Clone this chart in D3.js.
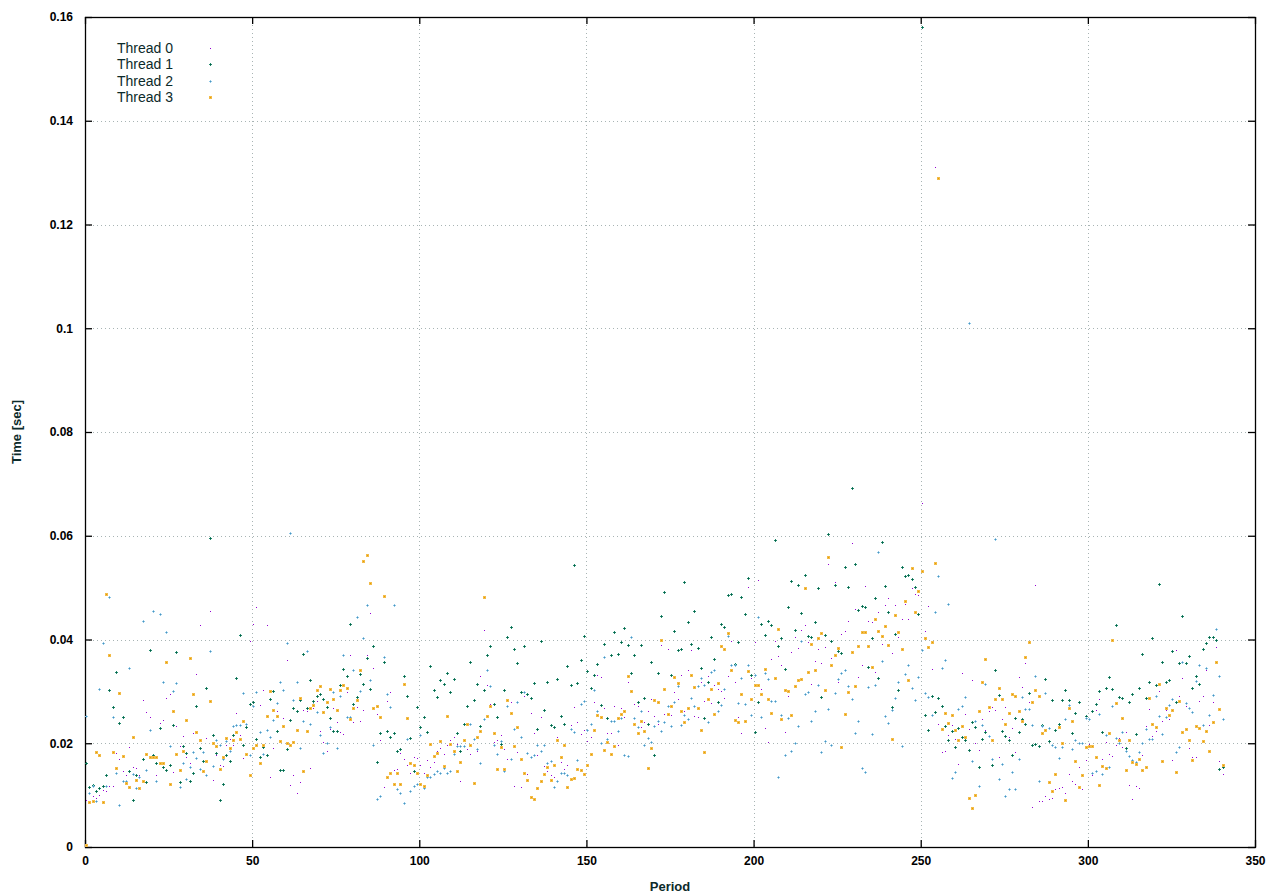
<!DOCTYPE html>
<html><head><meta charset="utf-8">
<script src="https://cdn.jsdelivr.net/npm/d3@7"></script>
<style>
html,body{margin:0;padding:0;background:#fff;}
svg{display:block;}
</style></head>
<body>
<svg id="chart" width="1280" height="896"></svg>
<script>
// ---- data ----
const seriesNames = ["Thread 0", "Thread 1", "Thread 2", "Thread 3"];
const xTicks = [0, 50, 100, 150, 200, 250, 300, 350];
const yTicks = [0, 0.02, 0.04, 0.06, 0.08, 0.1, 0.12, 0.14, 0.16];
const xLabel = "Period";
const yLabel = "Time [sec]";

const thread0 = [
0.0091,0.0105,0.0098,0.0095,0.0101,0.0109,0.0107,0.0117,0.0118,0.0181,
0.0169,0.0146,0.0138,0.0192,0.0155,0.0153,0.0138,0.0283,0.026,0.025,
0.0172,0.0138,0.0239,0.0245,0.0287,0.0295,0.0144,0.0233,0.0194,0.0214,
0.0173,0.0161,0.0219,0.0334,0.0427,0.0182,0.0211,0.0454,0.013,0.0178,
0.0159,0.0157,0.0196,0.0209,0.0196,0.0259,0.0215,0.0172,0.0232,0.0398,
0.0429,0.0462,0.0273,0.0303,0.0427,0.0134,0.019,0.0263,0.0205,0.0248,
0.0361,0.012,0.0138,0.0105,0.0126,0.0265,0.0262,0.0153,0.0268,0.0282,
0.0224,0.0203,0.0186,0.0228,0.0267,0.024,0.0222,0.0217,0.0298,0.0371,
0.024,0.0269,0.0242,0.0265,0.0371,0.0452,0.0346,0.0257,0.0207,0.0115,
0.0282,0.0298,0.0149,0.0151,0.0182,0.017,0.0158,0.0142,0.0174,0.0172,
0.0159,0.0143,0.0167,0.0155,0.0164,0.0186,0.019,0.018,0.0197,0.0207,
0.0212,0.0199,0.0128,0.0195,0.0188,0.018,0.0208,0.0186,0.0329,0.0419,
0.0313,0.0276,0.0203,0.0207,0.0215,0.0188,0.0169,0.028,0.0118,0.0184,
0.0115,0.0292,0.014,0.0259,0.0219,0.0178,0.025,0.0157,0.0147,0.0138,
0.0134,0.0213,0.0163,0.0151,0.0159,0.0236,0.0269,0.024,0.0217,0.0226,
0.0205,0.0213,0.028,0.0332,0.0327,0.0267,0.0219,0.0219,0.0271,0.0196,
0.0267,0.0251,0.0319,0.0303,0.0275,0.0271,0.0232,0.024,0.0262,0.0286,
0.0253,0.0238,0.039,0.0257,0.0381,0.0255,0.0298,0.0286,0.0332,0.0263,
0.0342,0.0379,0.0253,0.0251,0.0319,0.0282,0.0329,0.0278,0.0312,0.0305,
0.03,0.0288,0.033,0.0398,0.0319,0.025,0.0219,0.0273,0.0502,0.0325,
0.0396,0.0514,0.0305,0.023,0.0203,0.0363,0.0398,0.0369,0.035,0.0221,
0.0292,0.0375,0.0404,0.0384,0.0419,0.0427,0.0396,0.0315,0.0359,0.0382,
0.0354,0.0385,0.0545,0.0364,0.0511,0.0318,0.041,0.0416,0.0435,0.0586,
0.0458,0.0327,0.0351,0.0503,0.0435,0.0433,0.0337,0.0453,0.0392,0.0466,
0.048,0.0374,0.0466,0.0405,0.0439,0.0468,0.0439,0.0499,0.0487,0.0485,
0.0663,0.0416,0.0464,0.0343,0.131,0.0237,0.0183,0.0185,0.0215,0.0235,
0.0208,0.016,0.0335,0.0256,0.0228,0.0322,0.02,0.0187,0.0246,0.0225,
0.0262,0.027,0.0264,0.0173,0.0246,0.027,0.0212,0.0229,0.0183,0.0327,
0.0308,0.0354,0.0279,0.0077,0.0506,0.0089,0.0088,0.0099,0.0093,0.0095,
0.0111,0.0113,0.0116,0.0105,0.014,0.0128,0.0122,0.0155,0.0111,0.0168,
0.0199,0.0138,0.0265,0.0286,0.0169,0.0203,0.018,0.0176,0.0197,0.0211,
0.0192,0.0221,0.012,0.0093,0.0118,0.0113,0.0177,0.0233,0.0266,0.0214,
0.0223,0.0301,0.0243,0.0264,0.0247,0.0167,0.0379,0.0291,0.0326,0.0272,
0.019,0.0173,0.0173,0.0282,0.0291,0.0342,0.0235,0.028,0.0386,0.0165,0.014];

const thread1 = [
0.0161,0.0115,0.012,0.0107,0.0113,0.0117,0.0138,0.0303,0.027,0.0338,
0.0239,0.025,0.0128,0.0146,0.0091,0.0138,0.0135,0.0169,0.0126,0.0379,
0.0177,0.0161,0.0229,0.0155,0.0148,0.0159,0.0235,0.0375,0.0126,0.0194,
0.0181,0.0128,0.0142,0.0271,0.019,0.0165,0.0307,0.0596,0.0215,0.0182,
0.0091,0.0122,0.0178,0.0165,0.0215,0.0325,0.0409,0.0197,0.0232,0.0275,
0.028,0.0209,0.0174,0.0192,0.0178,0.0286,0.03,0.0224,0.0149,0.0149,
0.0188,0.0245,0.0267,0.0262,0.0284,0.0373,0.0268,0.0321,0.0282,0.0292,
0.0294,0.0285,0.027,0.0248,0.0224,0.0224,0.0313,0.0344,0.033,0.0429,
0.0275,0.029,0.0334,0.0315,0.0365,0.0305,0.0388,0.0163,0.0219,0.0357,
0.0224,0.0213,0.0219,0.0186,0.0188,0.033,0.0292,0.0211,0.0147,0.0269,
0.0232,0.025,0.0222,0.0348,0.0302,0.029,0.0321,0.0315,0.0336,0.0298,
0.0323,0.0219,0.0186,0.0238,0.0271,0.0356,0.0284,0.0315,0.0234,0.0303,
0.0371,0.0388,0.0276,0.0251,0.0199,0.0303,0.0404,0.0425,0.0382,0.0355,
0.0298,0.0388,0.0294,0.0288,0.0317,0.0228,0.0398,0.0265,0.0319,0.0236,
0.0232,0.0323,0.0253,0.0238,0.0348,0.0313,0.0544,0.0317,0.0361,0.0406,
0.034,0.0307,0.0332,0.0352,0.0273,0.0392,0.0248,0.0371,0.0415,0.0373,
0.0396,0.0423,0.039,0.0336,0.0371,0.028,0.039,0.0288,0.0238,0.0357,
0.0178,0.0336,0.0446,0.0492,0.0271,0.0332,0.0417,0.0379,0.0381,0.051,
0.0433,0.0392,0.0454,0.0384,0.0346,0.0248,0.0319,0.0404,0.0363,0.028,
0.0429,0.0425,0.0485,0.0487,0.0352,0.0396,0.0481,0.045,0.0519,0.0332,
0.0221,0.028,0.0429,0.0409,0.0436,0.0427,0.0591,0.0388,0.0402,0.0344,
0.0463,0.0512,0.0419,0.0506,0.0452,0.0525,0.0406,0.0404,0.0433,0.05,
0.029,0.0408,0.0603,0.0397,0.0505,0.0378,0.0374,0.054,0.0501,0.0692,
0.0545,0.0457,0.0464,0.0462,0.0347,0.0403,0.048,0.0325,0.0588,0.0503,
0.0453,0.027,0.041,0.0302,0.054,0.0522,0.0524,0.0516,0.0501,0.045,
0.158,0.0254,0.0225,0.0291,0.026,0.0287,0.0271,0.0233,0.0206,0.0223,
0.0192,0.0229,0.0212,0.0206,0.0187,0.0241,0.0231,0.0154,0.0208,0.0221,
0.0214,0.0158,0.0341,0.0293,0.0223,0.0214,0.0206,0.0177,0.0248,0.0221,
0.0246,0.0237,0.0297,0.0196,0.0199,0.0194,0.0236,0.0323,0.0205,0.0284,
0.0226,0.0238,0.0284,0.0302,0.0284,0.0219,0.0259,0.028,0.0201,0.0253,
0.0246,0.0263,0.0275,0.03,0.0222,0.0307,0.0327,0.0305,0.0427,0.029,
0.0288,0.019,0.028,0.0294,0.0217,0.0307,0.0373,0.0287,0.0318,0.0402,
0.0313,0.0507,0.0357,0.0318,0.0322,0.0377,0.028,0.0355,0.0445,0.0355,
0.0369,0.0307,0.033,0.0315,0.0381,0.0394,0.0404,0.0404,0.04,0.0151,0.0155];

const thread2 = [
0.0252,0.0105,0.0117,0.0089,0.0305,0.0394,0.0118,0.0482,0.025,0.0142,
0.0081,0.0128,0.0128,0.0346,0.014,0.0113,0.0134,0.0435,0.0148,0.0225,
0.0454,0.0128,0.0449,0.0318,0.0414,0.0194,0.0301,0.0317,0.0115,0.0162,
0.0132,0.0155,0.0184,0.0172,0.0151,0.0184,0.0138,0.0377,0.0157,0.0207,
0.0197,0.0169,0.0205,0.0186,0.0234,0.0236,0.0236,0.0296,0.0238,0.0178,
0.0271,0.0298,0.0221,0.018,0.0226,0.0212,0.0244,0.0278,0.0319,0.0302,
0.0394,0.0606,0.0284,0.0319,0.019,0.0242,0.0377,0.0238,0.0275,0.0261,
0.0215,0.0182,0.0201,0.0232,0.0298,0.019,0.0292,0.0371,0.0251,0.0251,
0.0342,0.0444,0.03,0.0402,0.0467,0.0321,0.0197,0.0093,0.0099,0.0367,
0.0294,0.0269,0.0467,0.0111,0.0105,0.0084,0.0209,0.0107,0.0118,0.0122,
0.0215,0.0113,0.0134,0.0134,0.014,0.0147,0.0143,0.0152,0.0143,0.0147,
0.018,0.0194,0.0194,0.0194,0.0238,0.0238,0.0209,0.0188,0.0161,0.0246,
0.0342,0.0311,0.0197,0.018,0.0205,0.0147,0.0271,0.017,0.0228,0.028,
0.0213,0.0298,0.0182,0.0174,0.0178,0.0196,0.0185,0.0196,0.0161,0.0165,
0.0116,0.0128,0.0142,0.0142,0.0138,0.0228,0.0221,0.0168,0.0275,0.0282,
0.0226,0.0238,0.0302,0.0262,0.0201,0.0367,0.0209,0.0242,0.0242,0.0224,
0.0248,0.0178,0.0176,0.0404,0.0249,0.0232,0.0262,0.0197,0.0211,0.0203,
0.0234,0.0242,0.0224,0.024,0.0271,0.0234,0.028,0.0311,0.0236,0.0255,
0.0246,0.0288,0.0272,0.0311,0.0325,0.0313,0.024,0.0338,0.0342,0.0263,
0.0273,0.0305,0.0406,0.035,0.035,0.0278,0.0325,0.0276,0.035,0.0255,
0.0332,0.0444,0.025,0.0336,0.0323,0.0282,0.0282,0.0134,0.0255,0.0178,
0.0248,0.0186,0.0201,0.0234,0.0398,0.0294,0.0298,0.0242,0.0263,0.0312,
0.0183,0.0204,0.0266,0.0196,0.0297,0.0324,0.0335,0.0341,0.031,0.0285,
0.0219,0.0243,0.0152,0.0144,0.0308,0.0218,0.0312,0.0568,0.0358,0.0252,
0.0239,0.0265,0.0287,0.0318,0.0194,0.0333,0.0351,0.0306,0.0283,0.0327,
0.038,0.0297,0.0289,0.0254,0.0453,0.0522,0.0345,0.036,0.0468,0.0133,
0.0144,0.0266,0.0271,0.0289,0.101,0.0165,0.0243,0.0117,0.0235,0.0314,
0.0214,0.0169,0.0593,0.0131,0.016,0.0098,0.0111,0.0144,0.0111,0.0169,
0.0289,0.0266,0.0266,0.0235,0.0329,0.0128,0.0234,0.0296,0.023,0.0196,
0.0192,0.0172,0.0192,0.0246,0.0273,0.0188,0.0207,0.0201,0.0201,0.0248,
0.0246,0.0142,0.0147,0.0257,0.014,0.0215,0.0155,0.0271,0.0211,0.0201,
0.0221,0.0186,0.0176,0.0167,0.0163,0.0184,0.02,0.0227,0.0208,0.0208,
0.0291,0.0252,0.0217,0.025,0.0274,0.0285,0.0184,0.0192,0.0357,0.0278,
0.0268,0.026,0.032,0.0351,0.0235,0.0346,0.0254,0.0293,0.0421,0.033,0.0247];

const thread3 = [
0.0003,0.0086,0.0088,0.0183,0.0177,0.0086,0.0487,0.037,0.0184,0.0152,
0.0296,0.0175,0.0123,0.0115,0.0213,0.0129,0.0113,0.0127,0.018,0.0173,
0.0173,0.0173,0.0161,0.0161,0.0356,0.0121,0.0263,0.018,0.0148,0.0186,
0.0244,0.0364,0.0294,0.0221,0.0207,0.0147,0.0165,0.0282,0.0201,0.0194,
0.0151,0.0174,0.0211,0.019,0.0207,0.0221,0.0209,0.0242,0.018,0.0138,
0.019,0.0197,0.0161,0.0196,0.0253,0.03,0.0265,0.0253,0.0205,0.0234,
0.0201,0.0196,0.0203,0.0226,0.0288,0.0147,0.0224,0.0267,0.0273,0.0302,
0.0311,0.026,0.028,0.0305,0.0286,0.0265,0.0303,0.0313,0.0307,0.0246,
0.0267,0.0284,0.0342,0.0552,0.0562,0.0508,0.0267,0.0271,0.0251,0.0483,
0.0134,0.0143,0.0122,0.0142,0.0122,0.0315,0.0248,0.0161,0.0159,0.0142,
0.0122,0.0118,0.0138,0.0199,0.0176,0.0182,0.0205,0.0157,0.0253,0.0199,
0.0185,0.0146,0.0163,0.0207,0.0238,0.0197,0.0124,0.0213,0.0223,0.0481,
0.0252,0.0271,0.0219,0.015,0.0192,0.015,0.0284,0.0259,0.0195,0.0232,
0.017,0.0142,0.013,0.0096,0.0092,0.0113,0.0127,0.014,0.0154,0.0129,
0.0158,0.0206,0.0174,0.0197,0.0116,0.0131,0.0133,0.015,0.0148,0.014,
0.0158,0.0179,0.0225,0.0254,0.025,0.0187,0.0203,0.0179,0.0194,0.0248,
0.0256,0.0263,0.0329,0.03,0.0238,0.0219,0.0242,0.0224,0.0153,0.0191,
0.0284,0.0279,0.04,0.0305,0.0257,0.0271,0.0327,0.0317,0.0262,0.024,
0.0268,0.0331,0.0309,0.0268,0.0225,0.0183,0.0286,0.0305,0.0257,0.0316,
0.0388,0.0381,0.0413,0.0342,0.0244,0.024,0.0294,0.0242,0.034,0.0286,
0.0313,0.0313,0.0294,0.0344,0.0286,0.0259,0.0325,0.0421,0.0247,0.0303,
0.0301,0.0255,0.031,0.0322,0.0324,0.05,0.0337,0.0391,0.0342,0.0403,
0.0413,0.0303,0.0559,0.0351,0.037,0.0383,0.0192,0.0257,0.0298,0.0376,
0.031,0.0388,0.0414,0.0414,0.0388,0.0347,0.0439,0.0417,0.0407,0.0426,
0.039,0.0209,0.0448,0.0415,0.0381,0.0474,0.0322,0.0538,0.0453,0.0493,
0.0532,0.0402,0.0385,0.0395,0.0547,0.129,0.0227,0.0258,0.0239,0.0254,
0.0225,0.0206,0.0233,0.0212,0.0094,0.0075,0.01,0.0262,0.0318,0.0362,
0.0269,0.0207,0.0286,0.0306,0.0285,0.0237,0.0258,0.0295,0.0291,0.0262,
0.0243,0.0366,0.0395,0.0279,0.0302,0.0292,0.0219,0.0225,0.0126,0.0107,
0.014,0.0232,0.0201,0.0091,0.0267,0.0242,0.0165,0.0115,0.0138,0.0192,
0.0194,0.0194,0.0173,0.012,0.0157,0.0153,0.0219,0.04,0.0278,0.0207,
0.0248,0.0148,0.0207,0.0163,0.016,0.0169,0.0148,0.0155,0.0287,0.0237,
0.0231,0.0315,0.0165,0.0268,0.0254,0.0264,0.0144,0.0281,0.0221,0.0227,
0.0206,0.0167,0.0233,0.0229,0.0204,0.0223,0.0185,0.0241,0.0357,0.0266,0.0159];

const allSeries = [thread0, thread1, thread2, thread3];

// ---- layout / style ----
const L = 85, R = 1255, T = 17, B = 847;
const svg = d3.select("#chart");
const x = d3.scaleLinear().domain([0, 350]).range([L, R]);
const y = d3.scaleLinear().domain([0, 0.16]).range([B, T]);
const fmt = d => String(+d.toFixed(2));
const textColor = "#0c2a2a";

// grid
const grid = svg.append("g").attr("stroke", "#a8b4b4").attr("stroke-width", 1)
  .attr("stroke-dasharray", "1,3").attr("shape-rendering", "crispEdges");
grid.selectAll("line.gx").data(xTicks.filter(v => v > 0 && v < 350)).enter().append("line")
  .attr("x1", d => Math.round(x(d)) + 0.5).attr("x2", d => Math.round(x(d)) + 0.5)
  .attr("y1", T).attr("y2", B);
grid.selectAll("line.gy").data(yTicks.filter(v => v > 0 && v < 0.16)).enter().append("line")
  .attr("y1", d => Math.round(y(d)) + 0.5).attr("y2", d => Math.round(y(d)) + 0.5)
  .attr("x1", L).attr("x2", R);

// axes
const axisFont = "bold 12px 'Liberation Sans', Arial, sans-serif";
function styleAxis(g, showText) {
  g.select(".domain").remove();
  g.selectAll(".tick line").attr("stroke", "#000").attr("stroke-width", 1.3);
  g.selectAll(".tick text").style("font", axisFont).attr("fill", "#000");
  if (!showText) g.selectAll(".tick text").remove();
}
svg.append("g").attr("transform", `translate(${L},0)`)
  .call(d3.axisLeft(y).tickValues(yTicks).tickFormat(fmt).tickSizeInner(-7).tickSizeOuter(0).tickPadding(12))
  .call(g => styleAxis(g, true));
svg.append("g").attr("transform", `translate(${R},0)`)
  .call(d3.axisRight(y).tickValues(yTicks).tickFormat(fmt).tickSizeInner(-7).tickSizeOuter(0))
  .call(g => styleAxis(g, false));
svg.append("g").attr("transform", `translate(0,${B})`)
  .call(d3.axisBottom(x).tickValues(xTicks).tickSizeInner(-7).tickSizeOuter(0).tickPadding(9))
  .call(g => styleAxis(g, true));
svg.append("g").attr("transform", `translate(0,${T})`)
  .call(d3.axisTop(x).tickValues(xTicks).tickSizeInner(-7).tickSizeOuter(0))
  .call(g => styleAxis(g, false));

// border
svg.append("rect").attr("x", L + 0.5).attr("y", T + 0.5).attr("width", R - L).attr("height", B - T)
  .attr("fill", "none").attr("stroke", "#000").attr("stroke-width", 1.3);

// axis titles
svg.append("text").attr("x", (L + R) / 2).attr("y", 891).attr("text-anchor", "middle")
  .style("font", "bold 13px 'Liberation Sans', Arial, sans-serif").attr("fill", textColor).text(xLabel);
svg.append("text").attr("transform", `translate(21,${(T + B) / 2}) rotate(-90)`).attr("text-anchor", "middle")
  .style("font", "bold 13px 'Liberation Sans', Arial, sans-serif").attr("fill", textColor).text(yLabel);

// markers
const styles = [
  {type: "dot", color: "#9400d3"},
  {type: "plus", color: "#1f8a6c", core: "#0b5a45"},
  {type: "plus", color: "#8cc6e6", core: "#4f93bb"},
  {type: "square", color: "#f2bb4a", core: "#e69f00"}
];
function drawMarker(g, st, cx, cy) {
  cx = Math.round(cx); cy = Math.round(cy);
  if (st.type === "dot") {
    g.append("rect").attr("x", cx).attr("y", cy).attr("width", 1).attr("height", 1).attr("fill", st.color);
  } else if (st.type === "plus") {
    g.append("rect").attr("x", cx - 1).attr("y", cy).attr("width", 3).attr("height", 1).attr("fill", st.color);
    g.append("rect").attr("x", cx).attr("y", cy - 1).attr("width", 1).attr("height", 3).attr("fill", st.color);
    g.append("rect").attr("x", cx).attr("y", cy).attr("width", 1).attr("height", 1).attr("fill", st.core);
  } else {
    g.append("rect").attr("x", cx - 1).attr("y", cy - 1).attr("width", 3).attr("height", 3).attr("fill", st.color);
    g.append("rect").attr("x", cx).attr("y", cy).attr("width", 1).attr("height", 1).attr("fill", st.core);
  }
}
const pts = svg.append("g").attr("shape-rendering", "crispEdges");
allSeries.forEach((arr, k) => {
  const g = pts.append("g").attr("class", "series-" + k);
  arr.forEach((v, i) => drawMarker(g, styles[k], x(i) + 1, y(v)));
});

// legend
const lg = svg.append("g");
seriesNames.forEach((name, k) => {
  const yy = 48 + k * 16.3;
  lg.append("text").attr("x", 117).attr("y", yy + 5).style("font", "14px 'Liberation Sans', Arial, sans-serif")
    .attr("fill", textColor).text(name);
  drawMarker(lg.append("g").attr("shape-rendering", "crispEdges"), styles[k], 210, yy);
});
</script>
</body></html>
